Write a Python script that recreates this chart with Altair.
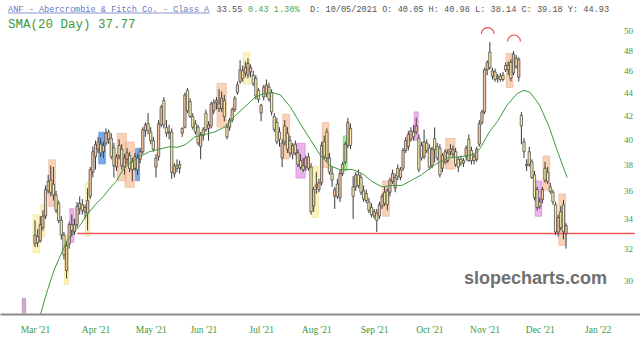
import altair as alt
import pandas as pd
import numpy as np

# ---------------- data ----------------
opens = [32.3,32.8,32.5,33.4,34.2,36.0,36.8,36.5,35.7,35.1,33.9,32.9,30.6,32.3,33.6,33.1,33.6,34.7,35.0,34.5,
         34.4,35.6,37.4,38.6,39.2,39.6,39.0,39.7,40.0,40.1,39.3,37.8,39.5,39.2,37.8,38.4,38.7,38.2,37.7,38.5,
         38.4,39.0,40.7,41.3,40.6,39.9,37.8,38.6,41.2,43.3,41.0,40.5,40.6,37.3,37.9,37.7,40.5,41.0,44.2,43.2,
         41.9,41.3,41.0,39.4,40.3,42.2,40.9,41.1,42.4,43.1,43.0,42.6,43.3,41.0,41.0,41.6,42.5,44.0,45.0,46.0,
         45.8,45.6,45.9,45.6,45.3,44.2,42.2,43.6,43.9,44.5,44.0,41.9,41.4,40.6,38.5,41.1,40.5,39.9,38.8,39.6,
         38.9,38.3,37.9,37.8,37.7,37.8,34.9,36.3,36.1,36.6,39.8,40.6,38.5,37.3,35.6,36.5,35.5,37.3,38.2,39.5,
         40.9,36.3,36.3,37.2,37.0,36.0,35.8,35.2,34.8,34.2,34.4,34.2,34.9,35.9,36.0,35.9,36.7,36.2,37.7,37.0,
         37.7,39.1,39.4,40.0,40.6,40.6,40.1,39.5,38.6,39.7,39.3,37.9,40.05,39.4,39.3,37.7,38.2,38.9,39.2,38.8,
         39.0,38.4,38.4,38.1,38.6,40.0,39.1,38.6,38.4,39.6,41.4,42.3,46.1,47.8,45.5,45.9,45.3,45.5,45.6,46.5,
         46.1,46.8,45.8,47.2,45.4,42.0,39.8,37.9,39.0,38.2,37.2,36.1,35.2,35.35,37.7,37.4,36.3,35.9,35.0,33.1,
         34.5,35.0,33.0]
highs = [33.9,33.3,34.2,34.6,36.4,37.2,37.9,37.8,36.0,35.3,34.2,33.1,32.5,33.8,34.3,34.0,35.2,35.6,35.4,35.0,
         36.2,37.8,39.4,39.9,40.2,40.1,39.8,40.9,40.8,40.5,39.7,38.8,40.0,39.6,38.8,39.3,39.0,38.5,38.9,38.8,
         39.3,41.0,41.4,42.2,41.0,40.2,38.8,41.6,42.9,43.6,41.6,41.2,40.9,38.1,38.4,38.3,41.0,44.0,44.4,43.5,
         42.2,41.6,41.2,40.6,41.0,42.5,41.5,43.2,43.4,43.6,44.3,44.1,43.8,41.3,41.8,42.7,43.7,45.0,47.0,46.5,
         46.9,47.2,46.6,46.0,45.6,44.4,43.0,44.7,45.2,44.9,44.3,42.2,41.8,41.0,40.0,41.6,41.0,40.3,39.7,39.9,
         39.2,38.8,38.5,38.7,38.9,38.1,36.3,37.4,36.9,39.8,40.3,40.9,38.9,37.8,36.3,36.9,37.6,38.2,39.8,41.8,
         41.3,37.1,37.4,37.6,37.3,36.4,36.1,35.5,35.1,34.7,34.7,35.2,35.8,36.3,36.2,37.0,37.6,37.3,38.0,37.8,
         39.3,40.2,40.7,41.0,41.2,41.8,40.4,39.8,40.8,40.0,39.6,39.4,40.98,39.7,39.6,38.9,39.2,39.2,39.6,39.5,
         39.3,38.6,38.7,38.5,39.5,40.4,39.4,38.9,39.4,41.6,42.5,46.3,47.0,48.8,46.3,46.2,45.7,45.8,45.9,46.8,
         46.9,47.1,47.9,47.5,47.3,42.3,40.1,38.4,39.4,38.4,37.5,36.3,35.5,36.3,38.2,37.8,36.6,36.1,35.2,34.3,
         34.9,35.35,33.7]
lows = [32.1,32.1,32.4,33.2,34.0,35.8,35.6,35.3,34.4,33.7,32.6,31.3,30.1,32.0,32.8,32.9,33.4,34.3,34.3,34.0,
        33.2,35.4,37.0,37.6,38.9,38.6,38.5,39.5,39.6,38.4,37.0,37.5,38.4,37.6,37.2,38.0,37.4,36.7,37.5,37.2,
        38.1,38.8,40.2,40.4,39.6,39.0,37.0,38.3,41.0,40.9,40.2,40.0,36.9,37.0,37.4,37.3,40.2,40.9,42.2,41.8,
        40.8,40.4,39.5,38.4,39.9,40.6,39.9,40.9,42.1,42.5,42.3,42.3,41.5,40.0,40.7,41.4,42.3,43.8,44.8,45.0,
        45.4,45.3,45.4,44.6,43.4,43.1,41.5,43.3,43.6,43.2,42.0,40.6,39.6,39.4,37.8,39.5,38.9,38.6,38.4,38.7,
        37.8,37.6,37.4,37.5,37.5,34.3,34.5,35.8,35.9,36.4,38.4,38.2,37.2,36.3,34.7,35.4,35.2,37.1,38.0,39.3,
        39.2,34.0,36.0,36.2,35.7,35.2,35.1,34.4,34.1,34.0,33.1,34.0,34.7,34.9,34.6,35.6,36.5,35.9,36.8,36.8,
        37.5,38.9,39.1,39.8,39.9,40.4,37.4,38.3,38.4,38.9,37.6,37.7,38.14,38.3,37.0,37.4,38.0,38.1,38.7,38.5,
        37.8,37.4,37.9,37.8,38.3,38.2,38.0,38.0,38.2,39.4,41.2,42.1,45.6,46.1,45.2,45.0,44.9,45.0,45.0,45.9,
        45.6,45.0,45.6,46.2,45.0,39.6,38.5,37.5,37.8,36.9,35.3,34.6,34.7,35.1,36.6,36.5,35.8,35.0,32.9,32.8,
        33.2,32.6,32.0]
closes = [32.9,32.4,33.6,34.2,36.1,36.7,35.9,35.7,34.6,33.9,32.9,31.6,32.2,33.6,33.2,33.6,34.9,35.1,34.6,34.8,
          35.3,37.6,39.0,39.6,39.8,38.9,39.5,40.5,40.6,38.6,37.9,38.6,38.7,37.9,38.5,38.9,37.7,37.6,38.6,37.6,
          39.0,40.8,41.2,40.7,39.9,39.2,38.5,41.3,42.7,41.2,40.5,40.6,37.4,37.9,37.7,38.0,40.9,43.8,42.4,41.9,
          41.0,40.6,39.7,40.4,40.8,40.8,41.2,43.0,43.1,43.3,42.6,43.5,41.9,40.2,41.6,42.5,43.5,44.7,46.1,45.3,
          46.3,46.7,46.3,44.8,43.7,43.4,42.9,44.5,44.7,43.4,42.3,40.8,39.8,40.0,39.7,39.8,39.2,38.9,39.5,38.9,
          38.0,37.8,37.6,38.5,38.6,34.5,36.1,36.45,36.6,39.5,38.6,38.5,37.4,36.8,36.1,35.6,37.3,38.0,39.6,41.4,
          39.5,35.6,37.2,36.4,35.9,35.4,35.3,34.6,34.3,34.5,33.9,35.0,35.6,35.1,35.0,36.8,37.3,37.0,37.1,37.6,
          39.1,39.9,40.4,40.7,40.2,41.1,37.6,38.5,39.8,39.1,37.8,39.2,39.18,38.5,37.2,38.7,39.0,38.3,39.0,39.2,
          38.0,37.8,38.1,38.3,39.3,38.3,38.3,38.3,39.2,41.3,42.3,46.1,46.8,46.3,46.0,45.2,45.5,45.2,45.2,46.1,
          46.5,45.3,47.6,46.4,47.1,41.1,39.0,38.0,38.0,37.0,35.5,34.8,34.9,36.1,36.8,36.7,35.95,35.2,33.1,34.1,
          33.4,33.12,33.55]

# first, stray bar at the far left (partly below the chart floor)
glitch_idx = [-4.2]
glitch_top = [28.9]
glitch_bottom = [27.0]

# 20-day SMA
sma_idx = [1.5, 4.8, 7.3, 9.8, 12.3, 14.8, 17.3, 19.8, 22.9, 26.0, 28.5, 30.9, 33.5, 36.0, 39.8, 43.5, 47.3,
           51.0, 54.1, 57.1, 60.8, 64.6, 68.3, 72.1, 75.8, 79.6, 83.3, 86.7, 90.4, 93.4, 97.2, 100.9, 104.7,
           108.4, 112.2, 115.9, 120.8, 124.5, 128.2, 132.0, 135.7, 139.5, 142.9, 147.0, 152.2, 157.1, 161.9,
           167.2, 169.4, 172.8, 175.8, 179.6, 183.3, 185.9, 188.2, 191.9, 195.6, 198.3, 200.9, 202.4]
sma_val = [27.7, 29.42, 30.65, 31.6, 32.58, 33.1, 33.6, 34.3, 35.0, 35.6, 36.2, 36.7, 37.6, 38.1, 38.6, 39.0,
           39.2, 39.4, 39.35, 39.55, 40.2, 40.4, 40.6, 41.0, 41.9, 42.7, 43.5, 43.9, 44.0, 43.8, 42.7, 41.3,
           40.0, 38.75, 37.9, 37.6, 37.6, 37.3, 36.7, 36.3, 36.4, 36.4, 36.75, 37.2, 38.0, 38.5, 38.6, 38.8,
           39.3, 40.6, 41.45, 42.9, 43.9, 44.2, 44.05, 42.9, 41.0, 39.3, 37.8, 37.0]

# pattern highlight boxes: first candle, last candle, kind
hl_start = [0, 3, 6, 12, 14, 20, 25, 32, 35, 39, 70, 80, 95, 100, 106, 110, 118, 133, 145, 157, 180, 191, 194, 200]
hl_end   = [1, 3, 7, 12, 14, 20, 26, 34, 37, 39, 72, 81, 96, 102, 107, 111, 118, 134, 145, 159, 181, 192, 195, 201]
hl_kind  = ["yellow", "yellow", "orange", "yellow", "magenta", "yellow", "blue", "orange", "orange", "blue",
            "orange", "yellow", "orange", "magenta", "yellow", "orange", "green", "orange", "magenta",
            "orange", "orange", "magenta", "orange", "orange"]

# red arcs over the two November tops
arc_idx = [172.2, 182.2]
arc_level = [49.6, 48.85]

# horizontal support line
support_level = [33.0]
support_from = [16]
support_to = [228.2]

# axes
month_idx = [0, 23, 44, 64, 86, 107, 129, 150, 171, 192, 214]
month_labels = ["Mar '21", "Apr '21", "May '21", "Jun '21", "Jul '21", "Aug '21",
                "Sep '21", "Oct '21", "Nov '21", "Dec '21", "Jan '22"]
y_ticks = [30, 32, 34, 36, 38, 40, 42, 44, 46, 48, 50]

header_name = "ANF - Abercrombie & Fitch Co. - Class A"
header_last = "33.55"
header_change = "0.43 1.30%"
header_rest = "D: 10/05/2021 O: 40.05 H: 40.98 L: 38.14 C: 39.18 Y: 44.93"
sma_label = "SMA(20 Day) 37.77"
watermark = "slopecharts.com"

# ---------------- tables ----------------
candles = pd.DataFrame({"i": list(range(len(opens))), "o": opens, "h": highs, "l": lows, "c": closes})
candles["dir"] = np.where(candles["c"] >= candles["o"], "up", "down")

hl_rows = []
for s, e, k in zip(hl_start, hl_end, hl_kind):
    seg = candles[(candles["i"] >= s) & (candles["i"] <= e)]
    hl_rows.append({"x0": s - 0.75, "x1": e + 0.75,
                    "y0": seg["l"].min() / 1.012, "y1": seg["h"].max() * 1.012, "kind": k})
hl = pd.DataFrame(hl_rows)

sma = pd.DataFrame({"i": sma_idx, "v": sma_val})
glitch = pd.DataFrame({"i": glitch_idx, "t": glitch_top, "b": glitch_bottom})
arcs = pd.DataFrame({"i": arc_idx, "v": arc_level})
support = pd.DataFrame({"xs": support_from, "xe": support_to, "v": support_level})

# ---------------- scales / axes ----------------
GREEN_TXT = "#3d9a3d"
x_scale = alt.Scale(domain=[-11.42, 228.22], nice=False, zero=False)
y_scale = alt.Scale(type="log", domain=[28.0, 53.16], nice=False)

label_expr = " : ".join(f'datum.value == {i} ? "{lab}"' for i, lab in zip(month_idx, month_labels)) + ' : ""'
x_axis = alt.Axis(values=month_idx, labelExpr=label_expr, title=None, grid=False, ticks=False, tickSize=0,
                  domain=True, domainColor="#8c8c8c", domainWidth=2, labelFont="Liberation Serif",
                  labelFontSize=9.5, labelColor=GREEN_TXT, labelPadding=10, labelFlush=False,
                  labelOverlap=False)
y_axis = alt.Axis(orient="right", values=y_ticks, title=None, grid=False, ticks=False, tickSize=0,
                  domain=False, labelFont="Liberation Serif", labelFontSize=9, labelColor=GREEN_TXT,
                  labelAlign="center", labelPadding=0, offset=-12, labelOverlap=False, format="d")


def X(field):
    return alt.X(field, scale=x_scale, axis=x_axis)


def Y(field):
    return alt.Y(field, scale=y_scale, axis=y_axis)


hl_colors = alt.Scale(domain=["orange", "yellow", "magenta", "blue", "green"],
                      range=["#f6c4a0", "#faf0a8", "#e59ae5", "#4a8fe0", "#7eea6e"])
hl_strokes = alt.Scale(domain=["orange", "yellow", "magenta", "blue", "green"],
                       range=["#eea27a", "#f0df7a", "#d26ad2", "#2f74c8", "#4ccc40"])

highlight_layer = alt.Chart(hl).mark_rect(opacity=0.75, strokeWidth=0.8, clip=True).encode(
    x=X("x0:Q"), x2="x1:Q", y=Y("y0:Q"), y2="y1:Q",
    color=alt.Color("kind:N", scale=hl_colors, legend=None),
    stroke=alt.Stroke("kind:N", scale=hl_strokes, legend=None),
)

support_layer = alt.Chart(support).mark_rule(stroke="#f05a5a", color="#f05a5a", strokeWidth=1.4,
                                             opacity=1, clip=True).encode(
    x=X("xs:Q"), x2="xe:Q", y=Y("v:Q")
)

wick_layer = alt.Chart(candles).mark_rule(color="#3a3a3a", strokeWidth=1, clip=True).encode(
    x=X("i:Q"), y=Y("l:Q"), y2="h:Q"
)

body_layer = alt.Chart(candles).mark_bar(width=2.3, stroke="#3a3a3a", strokeWidth=0.7, clip=True).encode(
    x=X("i:Q"), y=Y("o:Q"), y2="c:Q",
    color=alt.Color("dir:N", scale=alt.Scale(domain=["up", "down"], range=["#74c95c", "#d9a0a0"]),
                    legend=None),
)

glitch_layer = alt.Chart(glitch).mark_bar(width=3.4, color="#cfa9cf", stroke="#b58ab5", strokeWidth=0.7,
                                          clip=True).encode(
    x=X("i:Q"), y=Y("b:Q"), y2="t:Q"
)

sma_layer = alt.Chart(sma).mark_line(color="#3d9a3d", strokeWidth=1, clip=True).encode(
    x=X("i:Q"), y=Y("v:Q")
)

arc_layer = alt.Chart(arcs).mark_arc(color="#e05050", radius=7, radius2=5.8,
                                     theta=4.712389, theta2=7.853982).encode(
    x=X("i:Q"), y=Y("v:Q")
)


def text_layer(s, x, y, color, size, font="Liberation Mono", align="left", weight="normal",
               baseline="middle"):
    return alt.Chart(pd.DataFrame({"t": [s]})).mark_text(
        align=align, baseline=baseline, font=font, fontSize=size, color=color, fontWeight=weight
    ).encode(text="t:N", x=alt.value(x), y=alt.value(y))


underline = alt.Chart(pd.DataFrame({"t": [header_name]})).mark_rule(color="#6b79c2", strokeWidth=0.8).encode(
    x=alt.value(8), x2=alt.value(209.5), y=alt.value(13)
)

chart = alt.layer(
    highlight_layer,
    support_layer,
    wick_layer,
    body_layer,
    glitch_layer,
    sma_layer,
    arc_layer,
    text_layer(header_name, 8, 8.5, "#6b79c2", 8.6),
    underline,
    text_layer(header_last, 216.5, 8.5, "#555555", 8.6),
    text_layer(header_change, 248, 8.5, "#4fa64f", 8.6),
    text_layer(header_rest, 310, 8.5, "#555555", 8.6),
    text_layer(sma_label, 8, 24, "#3d9a3d", 12.5),
    text_layer(watermark, 607, 284, "#6f6f6f", 18, font="Liberation Sans", align="right", weight="bold",
               baseline="alphabetic"),
).properties(
    width=640, height=314,
    autosize=alt.AutoSizeParams(type="none"),
    padding={"left": 0, "top": 0, "right": 0, "bottom": 31},
    background="white",
).configure_view(stroke=None)

chart.save("out.html", embed_options={"renderer": "svg", "actions": False})
